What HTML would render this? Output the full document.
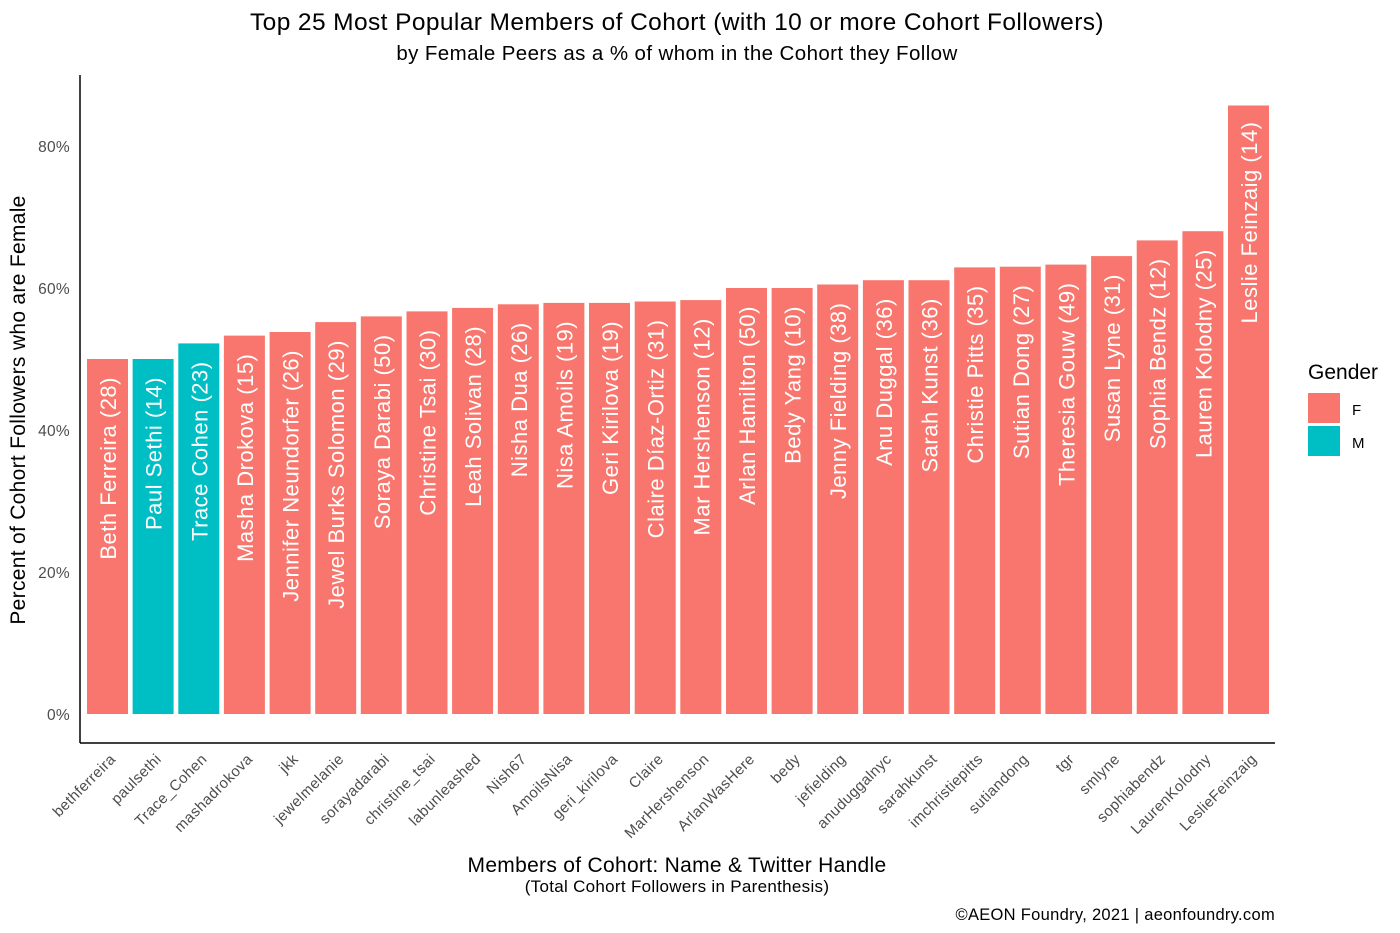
<!DOCTYPE html>
<html><head><meta charset="utf-8"><style>body{margin:0;background:#fff}svg{display:block;font-family:"Liberation Sans",Arial,sans-serif}.f{fill:#F8766D}.m{fill:#00BFC4}.l{fill:#fff;font-size:22px;letter-spacing:0.5px;text-anchor:end}.t{fill:#4d4d4d;font-size:15px;letter-spacing:0.4px;text-anchor:end}</style></head>
<body>
<svg width="1400" height="933" viewBox="0 0 1400 933" xmlns="http://www.w3.org/2000/svg">
<text x="677" y="30" font-size="24.5" letter-spacing="0.4" text-anchor="middle" fill="#000">Top 25 Most Popular Members of Cohort (with 10 or more Cohort Followers)</text>
<text x="677" y="60" font-size="20.5" letter-spacing="0.4" text-anchor="middle" fill="#000">by Female Peers as a % of whom in the Cohort they Follow</text>
<g font-size="15.5" letter-spacing="0.3" fill="#4d4d4d" text-anchor="end">
<text x="70" y="720">0%</text><text x="70" y="578">20%</text><text x="70" y="436">40%</text><text x="70" y="294">60%</text><text x="70" y="152">80%</text>
</g>
<text transform="translate(25,410) rotate(-90)" font-size="21" letter-spacing="0.3" text-anchor="middle">Percent of Cohort Followers who are Female</text>

<g transform="translate(87,359)"><rect class="f" width="41" height="355"/><text class="l" transform="translate(29,18) rotate(-90)">Beth Ferreira (28)</text></g>
<g transform="translate(132.6,359)"><rect class="m" width="41" height="355"/><text class="l" transform="translate(29,18) rotate(-90)">Paul Sethi (14)</text></g>
<g transform="translate(178.3,343.4)"><rect class="m" width="41" height="370.6"/><text class="l" transform="translate(29,18) rotate(-90)">Trace Cohen (23)</text></g>
<g transform="translate(223.9,335.6)"><rect class="f" width="41" height="378.4"/><text class="l" transform="translate(29,18) rotate(-90)">Masha Drokova (15)</text></g>
<g transform="translate(269.6,332)"><rect class="f" width="41" height="382"/><text class="l" transform="translate(29,18) rotate(-90)">Jennifer Neundorfer (26)</text></g>
<g transform="translate(315.2,322.1)"><rect class="f" width="41" height="391.9"/><text class="l" transform="translate(29,18) rotate(-90)">Jewel Burks Solomon (29)</text></g>
<g transform="translate(360.8,316.4)"><rect class="f" width="41" height="397.6"/><text class="l" transform="translate(29,18) rotate(-90)">Soraya Darabi (50)</text></g>
<g transform="translate(406.5,311.4)"><rect class="f" width="41" height="402.6"/><text class="l" transform="translate(29,18) rotate(-90)">Christine Tsai (30)</text></g>
<g transform="translate(452.1,307.9)"><rect class="f" width="41" height="406.1"/><text class="l" transform="translate(29,18) rotate(-90)">Leah Solivan (28)</text></g>
<g transform="translate(497.8,304.3)"><rect class="f" width="41" height="409.7"/><text class="l" transform="translate(29,18) rotate(-90)">Nisha Dua (26)</text></g>
<g transform="translate(543.4,302.9)"><rect class="f" width="41" height="411.1"/><text class="l" transform="translate(29,18) rotate(-90)">Nisa Amoils (19)</text></g>
<g transform="translate(589,302.9)"><rect class="f" width="41" height="411.1"/><text class="l" transform="translate(29,18) rotate(-90)">Geri Kirilova (19)</text></g>
<g transform="translate(634.7,301.5)"><rect class="f" width="41" height="412.5"/><text class="l" transform="translate(29,18) rotate(-90)">Claire Díaz-Ortiz (31)</text></g>
<g transform="translate(680.3,300.1)"><rect class="f" width="41" height="413.9"/><text class="l" transform="translate(29,18) rotate(-90)">Mar Hershenson (12)</text></g>
<g transform="translate(726,288)"><rect class="f" width="41" height="426"/><text class="l" transform="translate(29,18) rotate(-90)">Arlan Hamilton (50)</text></g>
<g transform="translate(771.6,288)"><rect class="f" width="41" height="426"/><text class="l" transform="translate(29,18) rotate(-90)">Bedy Yang (10)</text></g>
<g transform="translate(817.2,284.5)"><rect class="f" width="41" height="429.5"/><text class="l" transform="translate(29,18) rotate(-90)">Jenny Fielding (38)</text></g>
<g transform="translate(862.9,280.2)"><rect class="f" width="41" height="433.8"/><text class="l" transform="translate(29,18) rotate(-90)">Anu Duggal (36)</text></g>
<g transform="translate(908.5,280.2)"><rect class="f" width="41" height="433.8"/><text class="l" transform="translate(29,18) rotate(-90)">Sarah Kunst (36)</text></g>
<g transform="translate(954.2,267.4)"><rect class="f" width="41" height="446.6"/><text class="l" transform="translate(29,18) rotate(-90)">Christie Pitts (35)</text></g>
<g transform="translate(999.8,266.7)"><rect class="f" width="41" height="447.3"/><text class="l" transform="translate(29,18) rotate(-90)">Sutian Dong (27)</text></g>
<g transform="translate(1045.4,264.6)"><rect class="f" width="41" height="449.4"/><text class="l" transform="translate(29,18) rotate(-90)">Theresia Gouw (49)</text></g>
<g transform="translate(1091.1,256.1)"><rect class="f" width="41" height="457.9"/><text class="l" transform="translate(29,18) rotate(-90)">Susan Lyne (31)</text></g>
<g transform="translate(1136.7,240.4)"><rect class="f" width="41" height="473.6"/><text class="l" transform="translate(29,18) rotate(-90)">Sophia Bendz (12)</text></g>
<g transform="translate(1182.4,231.2)"><rect class="f" width="41" height="482.8"/><text class="l" transform="translate(29,18) rotate(-90)">Lauren Kolodny (25)</text></g>
<g transform="translate(1228,105.5)"><rect class="f" width="41" height="608.5"/><text class="l" transform="translate(29,16) rotate(-90)">Leslie Feinzaig (14)</text></g>

<text class="t" transform="translate(116.5,760) rotate(-45)">bethferreira</text>
<text class="t" transform="translate(162.1,760) rotate(-45)">paulsethi</text>
<text class="t" transform="translate(207.8,760) rotate(-45)">Trace_Cohen</text>
<text class="t" transform="translate(253.4,760) rotate(-45)">mashadrokova</text>
<text class="t" transform="translate(299.1,760) rotate(-45)">jkk</text>
<text class="t" transform="translate(344.7,760) rotate(-45)">jewelmelanie</text>
<text class="t" transform="translate(390.3,760) rotate(-45)">sorayadarabi</text>
<text class="t" transform="translate(436,760) rotate(-45)">christine_tsai</text>
<text class="t" transform="translate(481.6,760) rotate(-45)">labunleashed</text>
<text class="t" transform="translate(527.3,760) rotate(-45)">Nish67</text>
<text class="t" transform="translate(572.9,760) rotate(-45)">AmoilsNisa</text>
<text class="t" transform="translate(618.5,760) rotate(-45)">geri_kirilova</text>
<text class="t" transform="translate(664.2,760) rotate(-45)">Claire</text>
<text class="t" transform="translate(709.8,760) rotate(-45)">MarHershenson</text>
<text class="t" transform="translate(755.5,760) rotate(-45)">ArlanWasHere</text>
<text class="t" transform="translate(801.1,760) rotate(-45)">bedy</text>
<text class="t" transform="translate(846.7,760) rotate(-45)">jefielding</text>
<text class="t" transform="translate(892.4,760) rotate(-45)">anuduggalnyc</text>
<text class="t" transform="translate(938,760) rotate(-45)">sarahkunst</text>
<text class="t" transform="translate(983.7,760) rotate(-45)">imchristiepitts</text>
<text class="t" transform="translate(1029.3,760) rotate(-45)">sutiandong</text>
<text class="t" transform="translate(1074.9,760) rotate(-45)">tgr</text>
<text class="t" transform="translate(1120.6,760) rotate(-45)">smlyne</text>
<text class="t" transform="translate(1166.2,760) rotate(-45)">sophiabendz</text>
<text class="t" transform="translate(1211.9,760) rotate(-45)">LaurenKolodny</text>
<text class="t" transform="translate(1257.5,760) rotate(-45)">LeslieFeinzaig</text>

<line x1="80" y1="75" x2="80" y2="743" stroke="#000" stroke-width="1.5"/>
<line x1="80" y1="743" x2="1275" y2="743" stroke="#000" stroke-width="1.5"/>
<text x="677" y="872" font-size="21" letter-spacing="0.3" text-anchor="middle">Members of Cohort: Name &amp; Twitter Handle</text>
<text x="677" y="892" font-size="17" letter-spacing="0.3" text-anchor="middle">(Total Cohort Followers in Parenthesis)</text>
<text x="1275" y="920" font-size="16.5" letter-spacing="0.3" text-anchor="end">©AEON Foundry, 2021 | aeonfoundry.com</text>
<text x="1308" y="379" font-size="21">Gender</text>
<rect x="1308" y="393" width="32" height="30" fill="#F8766D"/>
<rect x="1308" y="426" width="32" height="30" fill="#00BFC4"/>
<text x="1352" y="415" font-size="15">F</text>
<text x="1352" y="448" font-size="15">M</text>
</svg>
</body></html>
